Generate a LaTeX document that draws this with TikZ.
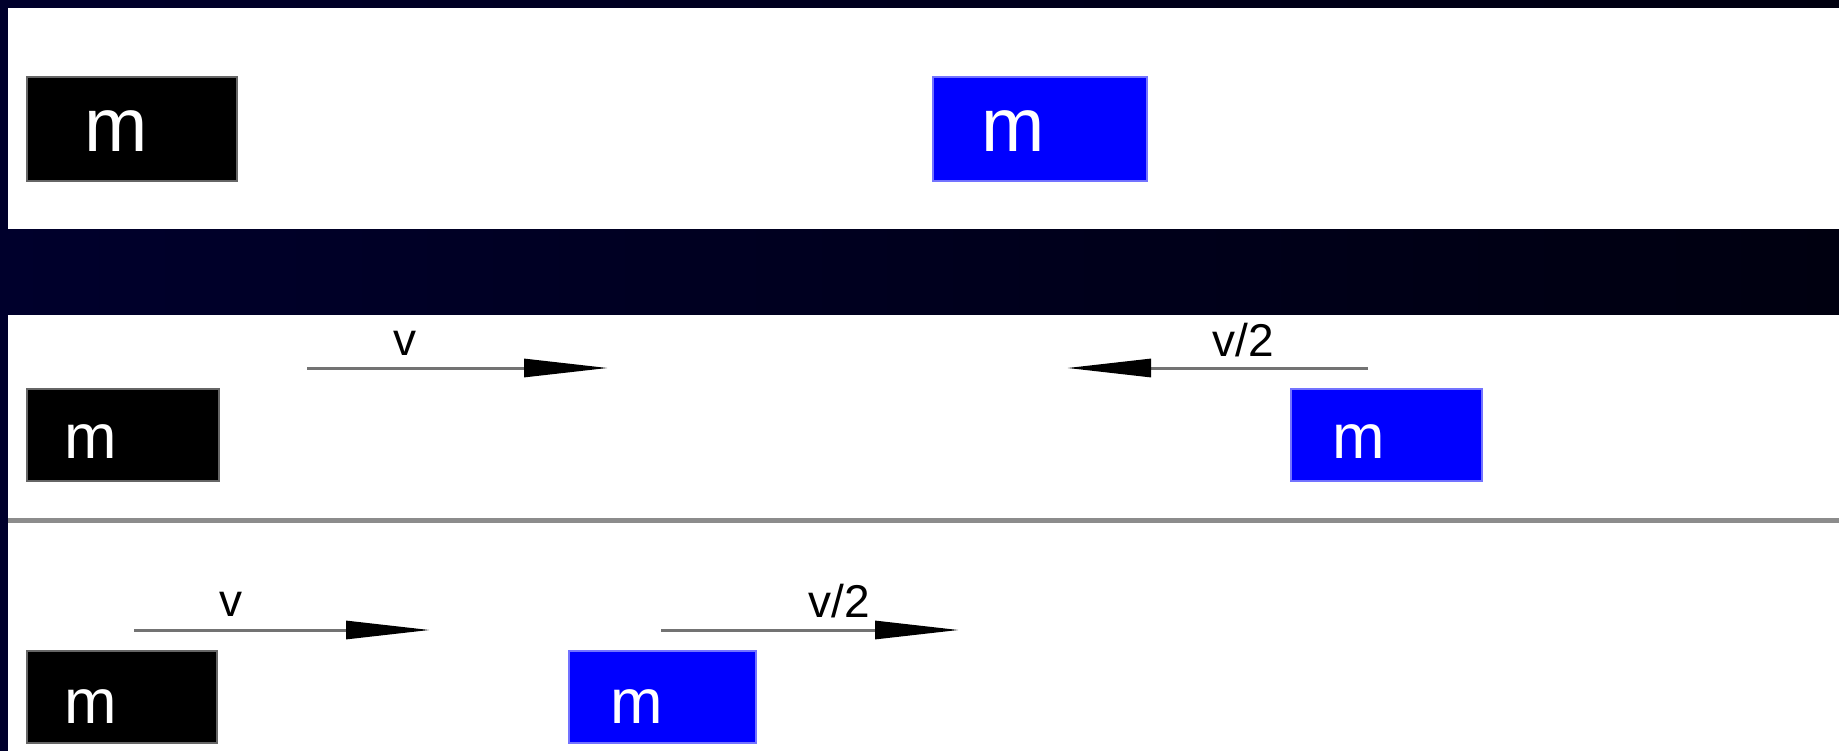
\documentclass[tikz,border=0pt]{standalone}
\usepackage{fontspec}
\setmainfont{Liberation Sans}
\usetikzlibrary{arrows.meta}
\definecolor{framedark}{RGB}{0,0,44}
\definecolor{framedarker}{RGB}{0,0,16}
\definecolor{blockblue}{RGB}{0,0,255}
\tikzset{
        block/.style={rectangle, inner sep=0pt, line width=2pt},
        % Black blocks
        block_black/.style={block, fill=black, draw=black!60},
        % Blue blocks
        block_blue/.style={block, fill=blockblue, draw=blockblue!55},
        % Mass labels
        mass_big/.style={text=white, inner sep=0pt, font=\fontsize{76}{76}\selectfont},
        mass_small/.style={text=white, inner sep=0pt, font=\fontsize{63}{63}\selectfont},
        % Velocity labels
        speed_label/.style={black, inner sep=0pt, anchor=base, font=\fontsize{46}{46}\selectfont},
        % Velocity arrows
        vel_arrow/.style={line width=3pt, draw=black!55, -{Triangle[length=84pt,width=18pt,color=black]}},
        % Separator
        sep_line/.style={line width=5pt, draw=black!45}
}

\begin{document}
\begin{tikzpicture}[x=1pt, y=-1pt]
    \useasboundingbox (0,0) rectangle (1839,751);
    % background frame
    \shade[left color=framedark, right color=framedarker] (0,0) rectangle (1839,751);
    \fill[white] (8,8) rectangle (1839,229);
    \fill[white] (8,315) rectangle (1839,751);

    % before
    \node[block_black, minimum width=210pt, minimum height=104pt] (b1) at (132,129) {};
    \node[mass_big] (m1) at (116,131) {m};
    \node[block_blue, minimum width=214pt, minimum height=104pt] (b2) at (1040,129) {};
    \node[mass_big] (m2) at (1013,131) {m};

    % moving towards each other
    \node[block_black, minimum width=192pt, minimum height=92pt] (b3) at (123,435) {};
    \node[mass_small] (m3) at (91,442) {m};
    \node[block_blue, minimum width=191pt, minimum height=92pt] (b4) at (1386,435) {};
    \node[mass_small] (m4) at (1359,442) {m};
    \coordinate (a3s) at (307,368);
    \coordinate (a3e) at (608,368);
    \coordinate (a4s) at (1368,368);
    \coordinate (a4e) at (1067,368);
    \draw[vel_arrow] (a3s) -- (a3e);
    \draw[vel_arrow] (a4s) -- (a4e);
    \node[speed_label] (v3) at (405,355) {v};
    \node[speed_label] (v4) at (1243,356) {v/2};

    \coordinate (sep_l) at (8,520);
    \coordinate (sep_r) at (1839,520);
    \draw[sep_line] (sep_l) -- (sep_r);

    % same direction
    \node[block_black, minimum width=190pt, minimum height=92pt] (b5) at (122,697) {};
    \node[mass_small] (m5) at (91,707) {m};
    \node[block_blue, minimum width=187pt, minimum height=92pt] (b6) at (662,697) {};
    \node[mass_small] (m6) at (637,707) {m};
    \coordinate (a5s) at (134,630);
    \coordinate (a5e) at (430,630);
    \coordinate (a6s) at (661,630);
    \coordinate (a6e) at (959,630);
    \draw[vel_arrow] (a5s) -- (a5e);
    \draw[vel_arrow] (a6s) -- (a6e);
    \node[speed_label] (v5) at (231,616) {v};
    \node[speed_label] (v6) at (839,617) {v/2};
\end{tikzpicture}
\end{document}
